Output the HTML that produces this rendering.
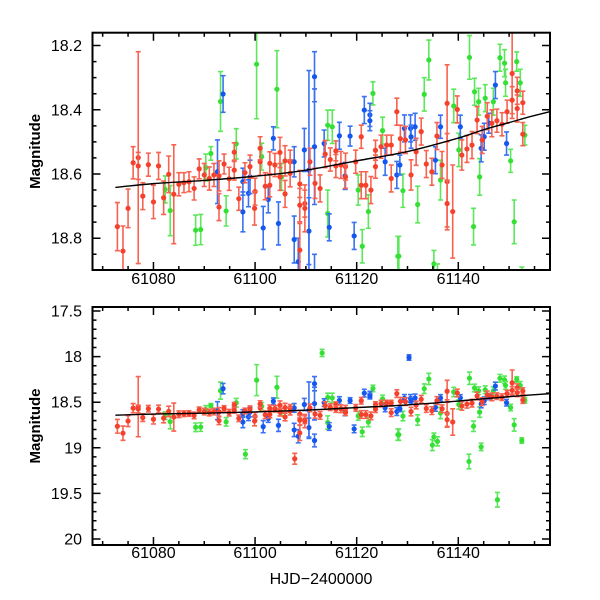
<!DOCTYPE html>
<html><head><meta charset="utf-8"><style>
html,body{margin:0;padding:0;background:#fff;}
svg{display:block;}
text{font-family:"Liberation Sans",sans-serif;fill:#000;}
</style></head><body>
<svg id="chart" width="600" height="600" viewBox="0 0 600 600"></svg>
<script>
// red series: [day, magnitude, error]
const redDays=[61072.9,61074.0,61075.0,61076.0,61077.0,61077.0,61077.9,61079.0,61080.0,61081.0,61082.0,61083.0,61084.0,61085.0,61086.0,61087.0,61088.0,61089.0,61090.0,61091.0,61091.9,61092.9,61092.9,61093.9,61094.9,61095.9,61095.9,61096.8,61098.0,
61099.0,61100.0,61101.0,61101.0,61102.0,61102.9,61102.9,61103.9,61104.9,61104.9,61105.9,61105.9,61106.9,61106.9,61108.8,61108.8,61109.8,61109.8,61108.8,61110.8,61111.8,61112.8,61113.8,61114.8,61115.9,61115.9,61116.9,61117.8,61117.8,61119.8,61120.9,61120.9,61121.8,61122.8,61123.7,61123.7,61124.8,61125.9,61126.8,61126.8,61127.9,61099.9,
61128.6,61129.6,61130.7,61131.7,61132.7,61133.7,61134.8,61135.8,61136.8,61137.8,61137.8,61137.8,61138.9,61139.8,61140.7,61141.7,61142.7,61143.7,61144.7,61145.7,61146.6,61147.6,61148.6,61149.6,61150.6,61151.6,61151.6,61152.7,61152.7,61150.6,61107.8];
const redMags=[18.764,18.840,18.707,18.565,18.549,18.575,18.669,18.571,18.687,18.575,18.674,18.601,18.663,18.632,18.627,18.624,18.645,18.584,18.603,18.614,18.603,18.606,18.703,18.569,18.615,18.532,18.588,18.677,18.596,
18.577,18.655,18.562,18.520,18.638,18.567,18.635,18.572,18.533,18.609,18.559,18.662,18.562,18.598,18.631,18.697,18.692,18.707,18.837,18.562,18.629,18.645,18.538,18.555,18.528,18.575,18.572,18.577,18.609,18.562,18.484,18.635,18.635,18.650,18.526,18.577,18.515,18.510,18.614,18.510,18.406,18.707,
18.490,18.494,18.603,18.531,18.468,18.569,18.593,18.482,18.572,18.380,18.624,18.692,18.717,18.399,18.541,18.522,18.510,18.432,18.494,18.420,18.442,18.434,18.445,18.406,18.287,18.341,18.396,18.378,18.476,18.370,19.120];
const redErrs=[0.075,0.078,0.060,0.050,0.330,0.042,0.042,0.036,0.052,0.042,0.052,0.057,0.154,0.036,0.031,0.031,0.036,0.031,0.036,0.036,0.036,0.047,0.042,0.031,0.036,0.029,0.031,0.036,0.031,
0.036,0.042,0.042,0.036,0.042,0.036,0.036,0.036,0.047,0.042,0.047,0.042,0.036,0.042,0.042,0.052,0.042,0.073,0.083,0.042,0.047,0.042,0.042,0.036,0.031,0.036,0.042,0.042,0.036,0.036,0.036,0.042,0.042,0.042,0.031,0.036,0.036,0.031,0.042,0.031,0.042,0.052,
0.042,0.042,0.047,0.042,0.042,0.042,0.042,0.042,0.042,0.120,0.150,0.073,0.145,0.042,0.047,0.042,0.042,0.042,0.042,0.042,0.042,0.036,0.036,0.036,0.140,0.042,0.042,0.036,0.036,0.042,0.060];
// green series
const greenDays=[61082.3,61083.3,61088.3,61089.3,61090.3,61091.3,61093.2,61094.3,61096.3,
61100.3,61104.3,61101.3,61114.3,61115.2,61114.3,61123.2,61122.3,61121.1,61125.1,61128.1,61120.3,61105.2,
61134.2,61133.3,61142.2,61143.2,61144.0,61145.3,61146.9,61148.2,61149.1,61149.3,61152.2,61139.1,61140.1,61132.0,61129.1,61128.3,61143.0,61144.2,61150.3,61151.0,61153.1,61136.5,61135.2,
61098.1,61113.2,61142.1,61147.7,61144.5,61134.9,61135.9,61152.5,61151.5];
const greenMags=[18.648,18.714,18.775,18.773,18.580,18.536,18.374,18.715,18.506,
18.258,18.336,18.546,18.448,18.453,18.723,18.349,18.717,18.825,18.465,18.856,18.650,18.609,
18.245,18.352,18.237,18.344,18.375,18.364,18.375,18.238,18.255,18.316,18.316,18.388,18.525,18.695,18.652,18.856,18.764,18.609,18.559,18.749,18.479,18.619,18.880,
19.070,17.960,19.150,19.570,18.990,18.970,18.930,18.920,18.250];
const greenErrs=[0.042,0.078,0.047,0.047,0.042,0.021,0.093,0.047,0.047,
0.170,0.120,0.042,0.047,0.052,0.073,0.036,0.052,0.052,0.042,0.062,0.047,0.042,
0.062,0.052,0.068,0.042,0.042,0.042,0.042,0.042,0.042,0.042,0.042,0.052,0.052,0.057,0.052,0.062,0.057,0.057,0.036,0.068,0.031,0.062,0.042,
0.050,0.040,0.080,0.080,0.040,0.060,0.050,0.030,0.030];
// blue series
const blueDays=[61092.6,61093.7,61097.6,61097.6,
61103.6,61111.7,61111.7,61109.7,61107.7,61110.6,61110.6,61101.6,61104.6,61102.6,61107.7,61108.5,61113.6,61116.6,61118.7,61121.5,61122.6,61122.6,61114.6,61119.5,61117.7,61125.6,61127.9,61098.7,61099.0,
61130.6,61129.4,61131.5,61128.5,61136.5,61135.5,61140.4,61144.5,61145.1,61147.3,61146.0,61149.5,61130.7,61130.3,61111.7];
const blueMags=[18.593,18.351,18.718,18.624,
18.489,18.297,18.515,18.525,18.562,18.588,18.778,18.768,18.754,18.679,18.804,18.873,18.505,18.481,18.482,18.401,18.416,18.434,18.766,18.793,18.606,18.562,18.603,18.660,18.609,
18.458,18.458,18.453,18.572,18.453,18.557,18.453,18.520,18.484,18.323,18.442,18.505,18.484,18.010,18.920];
const blueErrs=[0.099,0.057,0.062,0.042,
0.036,0.078,0.180,0.067,0.047,0.310,0.104,0.067,0.067,0.042,0.073,0.073,0.042,0.042,0.031,0.042,0.036,0.031,0.042,0.042,0.042,0.042,0.042,0.042,0.052,
0.042,0.042,0.042,0.031,0.036,0.042,0.036,0.042,0.042,0.042,0.031,0.036,0.036,0.030,0.070];
// fitted trend
const fitDays=[61072.5,61080,61090,61100,61110,61120,61130,61140,61145,61150,61154,61158];
const fitMags=[18.642,18.630,18.620,18.607,18.588,18.559,18.530,18.488,18.462,18.440,18.422,18.406];
const xTicks=[61080,61100,61120,61140];
const topTicks=["18.2","18.4","18.6","18.8"];
const botTicks=["17.5","18","18.5","19","19.5","20"];

const NS="http://www.w3.org/2000/svg";
const svg=document.getElementById('chart');
function mk(tag,attrs,parent){const e=document.createElementNS(NS,tag);for(const k in attrs)e.setAttribute(k,attrs[k]);(parent||svg).appendChild(e);return e;}
const X0=92.5,X1=550,D0=61068,D1=61158.05;
function xs(d){return X0+(d-D0)/(D1-D0)*(X1-X0);}
const panels=[
 {name:'top',y0:32.7,y1:270,m0:18.16,m1:18.899,major:0.2,minor:0.05,labels:topTicks,xlab:284},
 {name:'bottom',y0:307,y1:545,m0:17.456,m1:20.066,major:0.5,minor:0.1,labels:botTicks,xlab:558}
];
const series=[
 {name:'green',days:greenDays,mags:greenMags,errs:greenErrs,c:'#35e035',e:'#5be85b'},
 {name:'blue',days:blueDays,mags:blueMags,errs:blueErrs,c:'#1456f0',e:'#3a72f2'},
 {name:'red',days:redDays,mags:redMags,errs:redErrs,c:'#f5412c',e:'#f76350'}
];
function smoothPath(pts){
 let d=`M${pts[0][0]},${pts[0][1]}`;
 for(let i=0;i<pts.length-1;i++){
  const p0=pts[Math.max(0,i-1)],p1=pts[i],p2=pts[i+1],p3=pts[Math.min(pts.length-1,i+2)];
  const c1=[p1[0]+(p2[0]-p0[0])/6,p1[1]+(p2[1]-p0[1])/6],c2=[p2[0]-(p3[0]-p1[0])/6,p2[1]-(p3[1]-p1[1])/6];
  d+=`C${c1[0]},${c1[1]} ${c2[0]},${c2[1]} ${p2[0]},${p2[1]}`;
 }
 return d;
}
panels.forEach(p=>{
 const ys=m=>p.y0+(m-p.m0)/(p.m1-p.m0)*(p.y1-p.y0);
 const g=mk('g',{});
 
 
 const cid='clip-'+p.name;
 const cp=mk('clipPath',{id:cid},g);mk('rect',{x:X0,y:p.y0,width:X1-X0,height:p.y1-p.y0},cp);
 const plot=mk('g',{'clip-path':'url(#'+cid+')'},g);
 
 
 series.forEach(s=>{
  const sg=mk('g',{},plot);
  
  
  s.days.forEach((d,i)=>{
   const x=xs(d),y=ys(s.mags[i]),ya=ys(s.mags[i]-s.errs[i]),yb=ys(s.mags[i]+s.errs[i]);
   const pt=mk('g',{},sg);
   
   
   mk('path',{d:`M${x},${ya}V${yb}M${x-2.5},${ya}H${x+2.5}M${x-2.5},${yb}H${x+2.5}`,stroke:s.e,'stroke-width':1.6,fill:'none'},pt);
   mk('circle',{cx:x,cy:y,r:2.6,fill:s.c},pt);
  });
 });
 const fl=mk('path',{d:smoothPath(fitDays.map((d,i)=>[xs(d),ys(fitMags[i])])),fill:'none',stroke:'#000','stroke-width':1.4},plot);
 
 
 const fr=mk('rect',{x:X0,y:p.y0,width:X1-X0,height:p.y1-p.y0,fill:'none',stroke:'#000','stroke-width':2},g);
 
 
 let td='';
 for(let d=61070;d<=61155;d+=5){const x=xs(d),L=(d%20===0)?8:4;td+=`M${x},${p.y1}v${-L}M${x},${p.y0}v${L}`;}
 const n=Math.round((p.m1-p.m0)/p.minor)+2;
 const start=Math.ceil(p.m0/p.minor-1e-6)*p.minor;
 for(let k=0;k<n;k++){const m=start+k*p.minor;if(m>p.m1)break;const y=ys(m);const isMaj=Math.abs(m/p.major-Math.round(m/p.major))<1e-6;const L=isMaj?8:4;td+=`M${X0},${y}h${L}M${X1},${y}h${-L}`;}
 const tk=mk('path',{d:td,stroke:'#000','stroke-width':1.5,fill:'none'},g);
 
 
 p.labels.forEach(l=>{
  const t=mk('text',{x:82,y:ys(parseFloat(l))+5.5,'text-anchor':'end','font-size':16},g);
  t.textContent=l;
  
  
 });
 xTicks.forEach(d=>{
  const t=mk('text',{x:xs(d),y:p.xlab,'text-anchor':'middle','font-size':16},g);
  t.textContent=String(d);
  
  
 });
 const yc=(p.y0+p.y1)/2;
 const yt=mk('text',{x:0,y:0,transform:`translate(40,${yc}) rotate(-90)`,'text-anchor':'middle','font-size':15,'font-weight':'bold'},g);
 yt.textContent='Magnitude';
 
 
});
const xt=mk('text',{x:321,y:584,'text-anchor':'middle','font-size':16});
xt.textContent='HJD\u22122400000';


</script>
</body></html>
